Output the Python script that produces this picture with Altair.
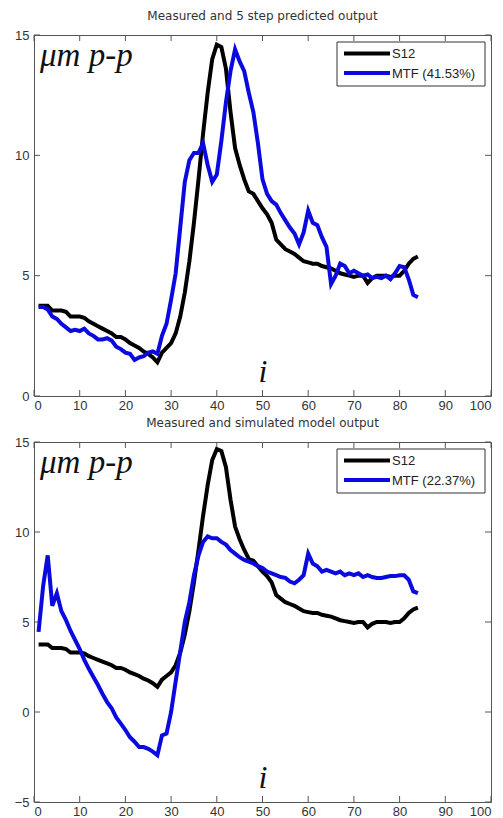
import altair as alt
import pandas as pd

idx = list(range(1, 85))

s12 = [3.75, 3.75, 3.75, 3.55, 3.55, 3.55, 3.5, 3.3, 3.3, 3.3,
       3.25, 3.1, 3.0, 2.9, 2.8, 2.7, 2.6, 2.45, 2.45, 2.35,
       2.2, 2.1, 2.0, 1.85, 1.75, 1.6, 1.4, 1.8, 2.0, 2.2,
       2.6, 3.3, 4.3, 5.6, 7.2, 9.0, 10.9, 12.6, 14.0, 14.6,
       14.5, 13.6, 11.8, 10.3, 9.6, 9.0, 8.5, 8.4, 8.1, 7.8,
       7.55, 7.2, 6.5, 6.3, 6.1, 6.0, 5.9, 5.75, 5.6, 5.55,
       5.5, 5.5, 5.4, 5.35, 5.3, 5.2, 5.1, 5.05, 5.0, 4.95,
       5.0, 5.0, 4.7, 4.9, 5.0, 5.0, 5.0, 4.95, 5.0, 5.0,
       5.2, 5.5, 5.7, 5.8]

mtf_pred = [3.7, 3.7, 3.6, 3.3, 3.2, 3.0, 2.85, 2.7, 2.75, 2.7,
            2.8, 2.6, 2.5, 2.35, 2.35, 2.4, 2.3, 2.05, 1.95, 1.8,
            1.75, 1.5, 1.6, 1.65, 1.8, 1.85, 1.75, 2.5, 3.0, 4.0,
            5.1, 7.0, 8.9, 9.8, 10.1, 10.1, 10.5, 9.6, 8.9, 9.2,
            10.6, 12.2, 13.5, 14.4, 13.9, 13.5, 12.6, 11.8, 10.5, 9.0,
            8.4, 8.1, 7.95, 7.6, 7.3, 7.0, 6.75, 6.3, 6.8, 7.7,
            7.2, 7.1, 6.6, 6.2, 4.65, 5.0, 5.5, 5.4, 5.1, 5.2,
            5.1, 5.0, 5.05, 4.9, 4.95, 4.9, 5.0, 4.85, 5.1, 5.4,
            5.35, 4.85, 4.2, 4.1]

mtf_sim = [4.45, 7.0, 8.7, 5.9, 6.6, 5.6, 5.1, 4.5, 4.0, 3.5,
           2.9, 2.4, 1.95, 1.5, 1.0, 0.55, 0.2, -0.3, -0.65, -1.0,
           -1.4, -1.65, -1.95, -1.95, -2.05, -2.2, -2.4, -1.3, -1.2, 0.0,
           1.7, 3.35, 5.0, 6.1, 7.6, 8.7, 9.45, 9.75, 9.65, 9.65,
           9.45, 9.3, 9.0, 8.8, 8.6, 8.45, 8.35, 8.25, 8.1, 8.0,
           7.8, 7.7, 7.6, 7.5, 7.45, 7.25, 7.15, 7.35, 7.6, 8.8,
           8.25, 8.1, 7.8, 7.9, 7.8, 7.7, 7.8, 7.6, 7.7, 7.6,
           7.7, 7.5, 7.6, 7.5, 7.45, 7.45, 7.5, 7.55, 7.55, 7.6,
           7.6, 7.35, 6.7, 6.6]

x_ticks = [0, 10, 20, 30, 40, 50, 60, 70, 80, 90, 100]
y_ticks_top = [0, 5, 10, 15]
y_ticks_bottom = [-5, 0, 5, 10, 15]

title_top = "Measured and 5 step predicted output"
title_bottom = "Measured and simulated model output"
name_top = "MTF (41.53%)"
name_bottom = "MTF (22.37%)"
y_label = "μm p-p"
x_label = "i"

W = 457
BLUE = "#0a0ae0"
GRAY = "#555555"
LW = 4


def panel(title, mtf_name, mtf_vals, ydom, yticks, h):
    df = pd.DataFrame({
        "i": idx + idx,
        "v": s12 + mtf_vals,
        "series": ["S12"] * len(idx) + [mtf_name] * len(idx),
    })
    xs = alt.Scale(domain=[0, 100], nice=False)
    ys = alt.Scale(domain=ydom, nice=False)
    color = alt.Color(
        "series:N",
        scale=alt.Scale(domain=["S12", mtf_name], range=["#000000", BLUE]),
        legend=None,
    )
    xaxis = alt.Axis(values=x_ticks, tickSize=0, domain=False, grid=False,
                     labelFont="Liberation Sans", labelFontSize=13, labelColor="#333333",
                     labelPadding=3, title=None)
    yaxis = alt.Axis(values=yticks, tickSize=0, domain=False, grid=False,
                     labelFont="Liberation Sans", labelFontSize=13, labelColor="#333333",
                     labelPadding=5, minExtent=28, maxExtent=28, title=None)

    base = alt.Chart(df)
    s_line = base.transform_filter(alt.datum.series == "S12").mark_line(strokeWidth=LW).encode(
        x=alt.X("i:Q", scale=xs, axis=xaxis),
        y=alt.Y("v:Q", scale=ys, axis=yaxis),
        color=color,
    )
    m_line = base.transform_filter(alt.datum.series == mtf_name).mark_line(strokeWidth=LW).encode(
        x=alt.X("i:Q", scale=xs),
        y=alt.Y("v:Q", scale=ys),
        color=color,
    )
    xt = alt.Chart(pd.DataFrame({"t": x_ticks}))
    yt = alt.Chart(pd.DataFrame({"t": yticks}))
    tb = xt.mark_rule(color=GRAY).encode(x=alt.X("t:Q", scale=xs), y=alt.value(h), y2=alt.value(h - 6))
    tt = xt.mark_rule(color=GRAY).encode(x=alt.X("t:Q", scale=xs), y=alt.value(0), y2=alt.value(6))
    tl = yt.mark_rule(color=GRAY).encode(y=alt.Y("t:Q", scale=ys), x=alt.value(0), x2=alt.value(6))
    tr = yt.mark_rule(color=GRAY).encode(y=alt.Y("t:Q", scale=ys), x=alt.value(W), x2=alt.value(W - 6))

    # axis labels written inside the plot (MATLAB figure annotations)
    lab = alt.Chart(pd.DataFrame({"txt": [y_label, x_label]}))
    ylab = lab.transform_filter(alt.datum.txt == y_label).mark_text(
        align="left", baseline="alphabetic", font="Liberation Serif", fontStyle="italic",
        fontSize=33, color="#111111"
    ).encode(text="txt:N", x=alt.value(6), y=alt.value(31))
    xlab = lab.transform_filter(alt.datum.txt == x_label).mark_text(
        align="center", baseline="alphabetic", font="Liberation Serif", fontStyle="italic",
        fontSize=32, color="#111111"
    ).encode(text="txt:N", x=alt.value(229), y=alt.value(h - 14))

    # legend box (drawn manually, MATLAB style)
    leg = alt.Chart(pd.DataFrame({"label": ["S12", mtf_name]}))
    box = leg.transform_filter(alt.datum.label == "S12").mark_rect(
        fill="white", stroke="#333333", strokeWidth=1
    ).encode(x=alt.value(303), x2=alt.value(451), y=alt.value(7), y2=alt.value(51))
    l1 = leg.transform_filter(alt.datum.label == "S12").mark_rule(
        color="#000000", strokeWidth=LW
    ).encode(x=alt.value(310), x2=alt.value(356), y=alt.value(18.5))
    l2 = leg.transform_filter(alt.datum.label == mtf_name).mark_rule(
        color=BLUE, strokeWidth=LW
    ).encode(x=alt.value(310), x2=alt.value(356), y=alt.value(38))
    t1 = leg.transform_filter(alt.datum.label == "S12").mark_text(
        align="left", baseline="middle", font="Liberation Sans", fontSize=13, color="#222222"
    ).encode(text="label:N", x=alt.value(358), y=alt.value(19))
    t2 = leg.transform_filter(alt.datum.label == mtf_name).mark_text(
        align="left", baseline="middle", font="Liberation Sans", fontSize=13, color="#222222"
    ).encode(text="label:N", x=alt.value(358), y=alt.value(38.5))

    return alt.layer(tb, tt, tl, tr, s_line, m_line, ylab, xlab, box, l1, l2, t1, t2).properties(
        width=W, height=h,
        title=alt.TitleParams(title, font="DejaVu Sans", fontSize=12,
                              fontWeight="normal", color="#333333", offset=6),
    )


top = panel(title_top, name_top, mtf_pred, [0, 15], y_ticks_top, 361)
bottom = panel(title_bottom, name_bottom, mtf_sim, [-5, 15], y_ticks_bottom, 360)

chart = alt.vconcat(top, bottom, spacing=3).resolve_scale(color="independent").properties(
    padding={"left": 5, "top": 9, "right": 5, "bottom": 0}
).configure_view(stroke=GRAY, strokeWidth=1)

chart.save("out.html", embed_options={"renderer": "svg", "actions": False})
